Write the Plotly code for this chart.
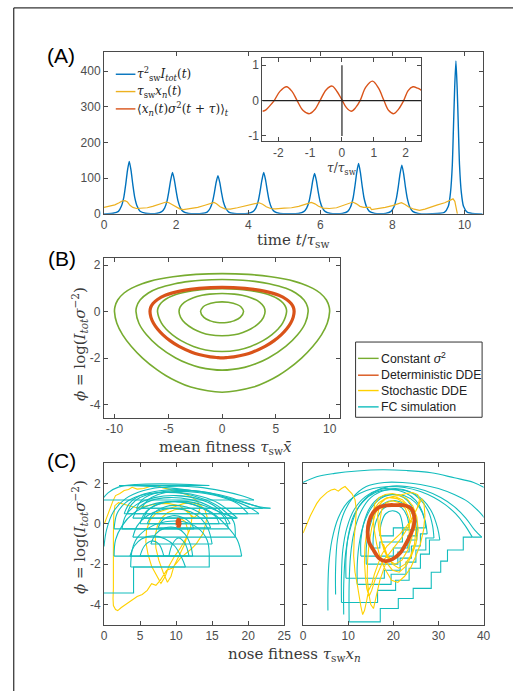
import plotly.graph_objects as go

W, H = 520, 698

# ---------------- Panel A data ----------------
A_t_blue = [0, 0.1, 0.25, 0.40, 0.48, 0.55, 0.60, 0.65, 0.70, 0.75, 0.80, 0.85, 0.92, 1.00, 1.15, 1.30,
            1.45, 1.60, 1.68, 1.75, 1.80, 1.85, 1.90, 1.95, 2.00, 2.05, 2.12, 2.20, 2.35, 2.55,
            2.71, 2.86, 2.94, 3.01, 3.06, 3.11, 3.16, 3.21, 3.26, 3.31, 3.38, 3.46, 3.61, 3.80,
            3.98, 4.13, 4.21, 4.28, 4.33, 4.38, 4.43, 4.48, 4.53, 4.58, 4.65, 4.73, 4.88, 5.15,
            5.39, 5.54, 5.62, 5.69, 5.74, 5.79, 5.84, 5.89, 5.94, 5.99, 6.06, 6.14, 6.29, 6.45,
            6.61, 6.76, 6.84, 6.91, 6.96, 7.01, 7.06, 7.11, 7.16, 7.21, 7.28, 7.36, 7.51, 7.65,
            7.81, 7.96, 8.04, 8.11, 8.16, 8.21, 8.26, 8.31, 8.36, 8.41, 8.48, 8.56, 8.71, 9.10,
            9.44, 9.55, 9.61, 9.66, 9.69, 9.725, 9.76, 9.795, 9.83, 9.86, 9.91, 9.97, 10.08, 10.30, 10.50]
A_v_blue = [0, 0.2, 1.5, 7, 21, 47, 81, 121, 147, 121, 81, 47, 21, 7, 1.5, 0.3,
            1, 6, 16, 37, 64, 95, 116, 95, 64, 37, 16, 6, 1, 0.2,
            1, 5, 15, 34, 59, 88, 107, 88, 59, 34, 15, 5, 1, 0.2,
            1, 6, 16, 37, 64, 95, 116, 95, 64, 37, 16, 6, 1, 0.2,
            1, 6, 16, 36, 62, 93, 113, 93, 62, 36, 16, 6, 1, 0.2,
            1.4, 7, 20, 45, 78, 116, 141, 116, 78, 45, 20, 7, 1.4, 0.3,
            1.4, 7, 19, 44, 75, 112, 136, 112, 75, 44, 19, 7, 1.4, 0.2,
            4, 21, 60, 137, 235, 351, 428, 351, 235, 137, 60, 21, 4, 0.3, 0]

A_t_orange = [0, 0.15, 0.3, 0.42, 0.5, 0.58, 0.65, 0.72, 0.8, 0.9, 1.0, 1.2, 1.35, 1.5, 1.62, 1.72, 1.8, 1.9,
              2.0, 2.1, 2.2, 2.4, 2.6, 2.8, 2.95, 3.05, 3.12, 3.22, 3.35, 3.5, 3.7, 3.9, 4.1, 4.3, 4.4,
              4.5, 4.62, 4.75, 5.0, 5.2, 5.4, 5.6, 5.75, 5.85, 5.95, 6.08, 6.25, 6.45, 6.6, 6.75, 6.9,
              7.0, 7.1, 7.2, 7.38, 7.42, 7.6, 7.8, 8.0, 8.15, 8.25, 8.35, 8.45, 8.6, 8.75, 8.9, 9.05,
              9.25, 9.45, 9.6, 9.68, 9.73, 9.77, 9.8]
A_v_orange = [18, 21, 25, 31, 36, 37, 33, 24, 18, 15, 16, 17, 21, 26, 30, 33, 31, 25,
              18, 14, 12, 14, 18, 24, 29, 32, 28, 20, 14, 13, 17, 22, 27, 31, 27,
              20, 15, 14, 16, 17, 21, 27, 32, 28, 21, 16, 15, 17, 22, 28, 33,
              28, 21, 18, 18, 12, 14, 18, 23, 28, 31, 26, 19, 13, 10, 13, 19,
              25, 31, 37, 42, 35, 15, 0]

A_tau = [-2.5, -2.4, -2.27, -2.13, -1.95, -1.74, -1.57, -1.41, -1.22, -1.02, -0.85, -0.69, -0.5, -0.31,
         -0.15, 0, 0.14, 0.29, 0.43, 0.57, 0.75, 0.96, 1.15, 1.32, 1.47, 1.63, 1.78, 1.94, 2.08, 2.23,
         2.38, 2.5]
A_corr = [-0.30, -0.27, -0.15, 0, 0.26, 0.39, 0.26, 0, -0.28, -0.37, -0.25, 0, 0.30, 0.41,
          0.25, 0.02, -0.20, -0.30, -0.20, 0, 0.38, 0.55, 0.35, 0, -0.28, -0.37, -0.24, 0, 0.28, 0.39,
          0.35, 0.29]

# ---------------- Panel B data (closed orbits) ----------------
B_c1_x = [0, 2.42, 4.55, 5.81, 6.73, 7.43, 8.44, 9.11, 9.70, 9.96, 10.0, 9.78, 9.24, 8.43, 7.39, 6.06, 5.24, 4.24, 2.91, 0,
          -2.91, -4.24, -5.24, -6.06, -7.39, -8.43, -9.24, -9.78, -10.0, -9.96, -9.70, -9.11, -8.44, -7.43, -6.73, -5.81, -4.55, -2.42, 0]
B_c1_y = [1.635, 1.6, 1.5, 1.4, 1.3, 1.2, 1.0, 0.8, 0.5, 0.2, 0, -0.5, -1.0, -1.5, -2.0, -2.5, -2.75, -3.0, -3.25, -3.47,
          -3.25, -3.0, -2.75, -2.5, -2.0, -1.5, -1.0, -0.5, 0, 0.2, 0.5, 0.8, 1.0, 1.2, 1.3, 1.4, 1.5, 1.6, 1.635]
B_c2_x = [0, 1.93, 3.04, 4.38, 5.94, 6.85, 7.62, 7.95, 8.0, 7.73, 7.02, 5.92, 4.31, 3.13, 2.09, 0,
          -2.09, -3.13, -4.31, -5.92, -7.02, -7.73, -8.0, -7.95, -7.62, -6.85, -5.94, -4.38, -3.04, -1.93, 0]
B_c2_y = [1.38, 1.35, 1.3, 1.2, 1.0, 0.8, 0.5, 0.2, 0, -0.5, -1.0, -1.5, -2.0, -2.25, -2.4, -2.52,
          -2.4, -2.25, -2.0, -1.5, -1.0, -0.5, 0, 0.2, 0.5, 0.8, 1.0, 1.2, 1.3, 1.35, 1.38]
B_c3_x = [0, 1.92, 2.70, 3.69, 4.36, 5.21, 5.69, 5.93, 6.0, 5.63, 5.21, 4.61, 3.81, 2.66, 1.52, 0,
          -1.52, -2.66, -3.81, -4.61, -5.21, -5.63, -6.0, -5.93, -5.69, -5.21, -4.36, -3.69, -2.70, -1.92, 0]
B_c3_y = [0.99, 0.945, 0.9, 0.81, 0.72, 0.54, 0.36, 0.18, 0, -0.5, -0.75, -1.0, -1.25, -1.5, -1.65, -1.72,
          -1.65, -1.5, -1.25, -1.0, -0.75, -0.5, 0, 0.18, 0.36, 0.54, 0.72, 0.81, 0.9, 0.945, 0.99]
B_c4_x = [0, 1.15, 1.86, 2.67, 3.51, 3.89, 4.0, 3.85, 3.43, 2.66, 1.93, 1.13, 0,
          -1.13, -1.93, -2.66, -3.43, -3.85, -4.0, -3.89, -3.51, -2.67, -1.86, -1.15, 0]
B_c4_y = [0.78, 0.75, 0.7, 0.6, 0.4, 0.2, 0, -0.25, -0.5, -0.75, -0.9, -1.0, -1.04,
          -1.0, -0.9, -0.75, -0.5, -0.25, 0, 0.2, 0.4, 0.6, 0.7, 0.75, 0.78]
B_c5_x = [0, 0.57, 1.41, 1.77, 2.0, 1.69, 1.09, 0.71, 0.45, 0, -0.45, -0.71, -1.09, -1.69, -2.0, -1.77, -1.41, -0.57, 0]
B_c5_y = [0.417, 0.4, 0.3, 0.2, 0, -0.25, -0.4, -0.45, -0.47, -0.483, -0.47, -0.45, -0.4, -0.25, 0, 0.2, 0.3, 0.4, 0.417]
B_dde_x = [0, 2.14, 2.95, 4.02, 5.28, 6.0, 6.42, 6.64, 6.70, 6.61, 6.37, 6.0, 5.49, 4.84, 4.0, 2.82, 2.15, 1.1, 0.42, 0,
           -0.42, -1.1, -2.15, -2.82, -4.0, -4.84, -5.49, -6.0, -6.37, -6.61, -6.70, -6.64, -6.42, -6.0, -5.28, -4.02, -2.95, -2.14, 0]
B_dde_y = [1.04, 1.0, 0.957, 0.87, 0.70, 0.52, 0.35, 0.17, 0, -0.25, -0.5, -0.75, -1.0, -1.25, -1.5, -1.75, -1.85, -1.95, -1.98, -1.99,
           -1.98, -1.95, -1.85, -1.75, -1.5, -1.25, -1.0, -0.75, -0.5, -0.25, 0, 0.17, 0.35, 0.52, 0.70, 0.87, 0.957, 1.0, 1.04]

# ---------------- Panel C (left) data ----------------
CL_fc_arcs = [
    [(0, -1.12), (0.35, -0.3), (1.3, 0.6), (3, 1.25), (5.5, 1.65), (9, 1.85), (13, 1.82), (16.5, 1.62), (19, 1.4), (20.8, 1.18)],
    [(-0.3, 1.18), (0.6, 1.55), (2, 1.82), (4.5, 1.95), (8, 1.98), (12, 1.95), (14.6, 1.9)],
    [(2.1, 1.9), (5, 1.88), (9, 1.78), (13, 1.6), (16.5, 1.35), (19.5, 1.05), (21.5, 0.85), (23.1, 0.77)],
    [(4.5, 0.77), (5.3, 1.2), (7, 1.5), (10, 1.65), (13.5, 1.6), (17, 1.35), (20, 1.0), (22, 0.77)],
    [(5.2, 0.77), (6, 1.15), (7.5, 1.45), (10, 1.6), (13, 1.55), (16, 1.35), (18.5, 1.0), (20, 0.5)],
    [(2.8, 0.5), (3.5, 1.0), (5, 1.4), (8, 1.65), (11.5, 1.68), (15, 1.5), (18, 1.15), (20.5, 0.75), (21.5, 0.5)],
    [(3.2, 0.5), (3.8, 0.95), (5, 1.3), (7.5, 1.55), (10.5, 1.55), (13.5, 1.35), (16, 1.0), (17.5, 0.6), (18.5, 0.28)],
    [(5.5, 0.28), (6.2, 0.7), (7.8, 1.0), (10, 1.12), (12.5, 1.05), (15, 0.75), (17, 0.45), (18.3, 0.28)],
    [(4, 0.28), (4.8, 0.8), (6.5, 1.15), (9, 1.3), (12, 1.2), (14.5, 0.9), (16.5, 0.4), (17.3, -0.25)],
    [(2.5, -0.25), (3, 0.4), (4.5, 0.95), (7, 1.3), (10, 1.4), (13, 1.25), (15.5, 0.85), (17, 0.3), (17.5, 0.0)],
    [(5, 0.0), (5.6, 0.5), (7, 0.9), (9.5, 1.1), (12, 1.0), (14, 0.7), (15.5, 0.35), (16, 0.0)],
    [(6, 0.0), (6.8, 0.5), (8.5, 0.85), (10.5, 0.9), (12.5, 0.7), (14, 0.35), (14.8, -0.2)],
    [(7.5, -0.2), (8.2, 0.2), (9.5, 0.4), (11, 0.3), (12, 0.05), (12.5, -0.25)],
    [(1.4, -0.25), (1.8, 0.5), (3, 1.05), (5, 1.4), (8, 1.55), (11, 1.5), (14, 1.2), (16.5, 0.7), (18, 0.1), (18.2, -0.66)],
    [(4, -0.66), (4.6, -0.1), (6, 0.4), (8, 0.7), (10, 0.75), (12, 0.6), (13.5, 0.25), (14.5, -0.3), (15, -1.0)],
    [(6.5, -1.0), (7.2, -0.5), (8.5, -0.2), (10, -0.2), (11.2, -0.5), (12, -1.05), (12.3, -1.6)],
    [(5, -1.6), (5.6, -1.1), (6.6, -0.85), (7.6, -1.0), (8.3, -1.6)],
    [(9, -1.6), (9.5, -1.0), (10.3, -0.7), (11.2, -0.95), (11.8, -1.6)],
    [(1.4, -1.6), (1.6, -0.8), (2.5, -0.1), (4, 0.5), (6.5, 0.95), (9.5, 1.1), (12.5, 0.95), (15, 0.55), (17, -0.1), (18.5, -0.8), (19.1, -1.6)],
    [(3.6, -1.6), (4.2, -1.1), (5.2, -0.75), (6.8, -0.6), (8.5, -0.75), (9.8, -1.1), (10.8, -1.7), (11.3, -2.14)],
    [(3.7, -2.14), (3.9, -1.3), (4.6, -0.7), (6.2, -0.2), (8.5, 0.1), (11, 0.1), (13, -0.2), (14.3, -0.8), (14.6, -1.5)],
]
CL_fc_tail = [(14.6, -1.5), (14.6, -2.14), (4.1, -2.14), (4.1, -3.43), (-0.3, -3.43)]

CL_sdde = [(0.05, 0.0), (0.4, 0.35), (0.8, 0.75), (1.2, 1.1), (1.6, 1.4), (2.2, 1.5), (2.8, 1.65), (3.4, 1.7), (3.9, 1.81),
           (4.6, 1.72), (5.5, 1.75), (6.4, 1.85), (7.3, 1.9), (8.2, 1.78), (9, 1.72), (9.6, 1.62), (10.5, 1.55), (11.4, 1.45),
           (12.3, 1.3), (13, 1.1), (13.3, 0.8), (13.1, 0.5), (12.5, 0.3), (11.5, 0.6), (10.5, 0.9), (9, 1.0), (7.5, 1.0),
           (6, 0.9), (4.5, 0.8), (3, 0.95), (2, 1.05), (1.5, 0.9), (1.35, 0.4), (1.3, -0.5), (1.32, -1.5), (1.28, -2.5),
           (1.3, -3.2), (1.25, -3.7), (1.3, -4.05), (1.6, -4.25), (1.9, -4.3), (2.4, -4.15), (3.2, -3.95), (3.8, -3.8),
           (4.6, -3.6), (5.3, -3.5), (6, -3.3), (6.6, -2.97), (7.2, -3.05), (7.8, -2.8), (8.3, -2.55), (8.7, -2.3),
           (9.4, -2.2), (10, -1.98), (10.6, -1.7), (11.4, -1.48), (12.1, -1.25), (12.8, -0.99), (13.3, -0.7), (13.7, -0.5),
           (14.1, 0), (14.3, 0.35), (14.0, 0.7), (13.3, 0.95), (12.2, 1.05), (11, 1.0), (9.8, 0.85), (8.5, 0.7), (7.3, 0.55),
           (6.4, 0.2), (5.9, -0.3), (5.8, -0.9), (6.1, -1.5), (6.6, -2.1), (7.3, -2.6), (7.9, -2.95), (8.5, -2.6), (9, -2.1),
           (9.8, -1.6), (10.6, -1.2), (11.4, -0.7), (12, -0.2), (12.2, 0.3), (11.8, 0.6), (10.9, 0.75), (9.8, 0.7),
           (8.8, 0.55), (8, 0.3), (7.4, -0.1), (7.1, -0.6), (7.2, -1.2), (7.6, -1.8), (8.2, -2.4), (8.8, -2.9), (9.3, -2.6),
           (9.7, -2.1), (10.4, -1.6), (11.2, -1.0), (11.7, -0.4), (11.3, 0.1), (10.5, 0.3), (10.3, 0.05)]
CL_dde = [(10.15, -0.08), (10.15, 0.15), (10.3, 0.22), (10.5, 0.18), (10.55, 0.0), (10.45, -0.12), (10.25, -0.12), (10.15, -0.08)]

# ---------------- Panel C (right) data ----------------
CR_fc_free_arcs = [
    [(-0.5, 2.0), (3, 2.33), (7, 2.5), (12, 2.62), (17.5, 2.68), (23, 2.64), (28.4, 2.53), (33.5, 2.28), (37.8, 2.05), (41, 1.7)],
    [(7.2, -3.5), (7.2, -2.2), (7.6, -0.8), (8.8, 0.4), (11, 1.3), (14, 1.85), (18, 2.05), (22, 2.05), (26, 1.95), (30, 1.75),
     (33.5, 1.45), (36.5, 1.1), (39, 0.6), (40.5, 0.2)],
    [(9, -4.5), (9, -3.0), (9.4, -1.5), (10.5, -0.2), (12.5, 0.9), (15.5, 1.55), (19, 1.85), (23, 1.85), (27, 1.65),
     (30.5, 1.3), (33.5, 0.85), (36, 0.3), (38, -0.3), (39.6, -0.66)],
    [(17, -0.6), (17.3, 0.0), (18.3, 0.5), (19.8, 0.65), (21.3, 0.5), (22, 0.0), (22.2, -0.5)],
]
CR_fc_arcs = [
    [(5.5, -4.3), (5.5, -3.2), (5.7, -2.0), (6.4, -0.8), (7.8, 0.3), (9.8, 1.05), (12.5, 1.5), (15.5, 1.75), (19, 1.85),
     (22.5, 1.8), (26, 1.6), (29, 1.3), (31.5, 0.95), (33.8, 0.5), (35.8, -0.05), (37.5, -0.66)],
    [(10.2, -4.86), (10.2, -3.0), (10.5, -1.6), (11.3, -0.4), (12.8, 0.6), (15, 1.3), (18, 1.65), (21, 1.7), (24, 1.55),
     (26.5, 1.2), (28.5, 0.6), (29.8, -0.2), (30.3, -0.8)],
    [(8.5, -3.9), (8.5, -2.6), (8.8, -1.3), (9.7, -0.2), (11.3, 0.7), (13.8, 1.35), (17, 1.7), (20.5, 1.75), (23.5, 1.6),
     (26, 1.2), (27.8, 0.6), (28.7, -0.1), (29, -0.7)],
    [(12, -3.0), (12, -2.0), (12.5, -0.9), (13.6, 0.1), (15.5, 0.9), (18, 1.35), (21, 1.45), (23.8, 1.25), (25.8, 0.8),
     (27, 0.2), (27.5, -0.5)],
    [(9.5, -2.7), (9.5, -1.7), (10, -0.6), (11.2, 0.4), (13.3, 1.1), (16, 1.55), (19.5, 1.7), (22.5, 1.55), (25, 1.15),
     (26.5, 0.55), (27.2, -0.2)],
    [(14, -2.0), (14, -1.2), (14.6, -0.3), (15.8, 0.5), (17.8, 1.0), (20.3, 1.15), (22.6, 0.95), (24.2, 0.5), (25, -0.1), (25.3, -0.6)],
    [(12.8, -1.6), (12.8, -0.8), (13.4, 0.0), (14.8, 0.8), (17, 1.3), (19.8, 1.45), (22.3, 1.3), (24, 0.9), (25, 0.3), (25.4, -0.3)],
    [(15.5, -1.2), (15.6, -0.5), (16.3, 0.2), (17.8, 0.75), (19.8, 0.95), (21.8, 0.8), (23, 0.4), (23.5, -0.2)],
]
CR_fc_stairs = [
    [(37.5, -0.66), (35.5, -0.66), (35.5, -1.3), (32, -1.3), (32, -1.85), (30.5, -1.85), (30.5, -2.4), (28.4, -2.4), (28.4, -3.2),
     (24.4, -3.2), (24.4, -3.7), (21.1, -3.7), (21.1, -4.2), (17.1, -4.2), (17.1, -4.86), (10.2, -4.86)],
    [(30.3, -0.8), (28, -0.8), (28, -1.5), (26, -1.5), (26, -2.2), (23.5, -2.2), (23.5, -2.8), (20.5, -2.8), (20.5, -3.3),
     (16.5, -3.3), (16.5, -3.9), (8.5, -3.9)],
    [(29, -0.7), (27.2, -0.7), (27.2, -1.3), (25, -1.3), (25, -1.9), (22.8, -1.9), (22.8, -2.5), (19.5, -2.5), (19.5, -3.0), (12, -3.0)],
    [(27.5, -0.5), (26, -0.5), (26, -1.1), (24, -1.1), (24, -1.7), (21.5, -1.7), (21.5, -2.3), (18, -2.3), (18, -2.7), (9.5, -2.7)],
    [(27.2, -0.2), (25.2, -0.2), (25.2, -0.8), (23.5, -0.8), (23.5, -1.4), (21, -1.4), (21, -2.0), (14, -2.0)],
    [(25.3, -0.6), (23.2, -0.6), (23.2, -1.2), (20, -1.2), (20, -1.6), (12.8, -1.6)],
    [(25.4, -0.3), (22, -0.3), (22, -0.9), (17, -0.9), (17, -1.2), (15.5, -1.2)],
    [(23.5, -0.2), (20, -0.2), (20, -0.6), (17, -0.6)],
    [(39.6, -0.66), (37.5, -0.66)],
]
CR_sdde = [(0, -0.46), (0.8, 0.0), (1.6, 0.4), (2.4, 0.75), (3, 1.0), (3.8, 1.25), (4.6, 1.4), (5.3, 1.56), (6.2, 1.68), (7, 1.72),
           (7.8, 1.62), (8.5, 1.75), (9.3, 1.85), (10, 1.7), (10.8, 1.5), (11.5, 1.2), (11.8, 0.7), (11.6, 0.0), (11.3, -0.8),
           (11.2, -1.6), (11.5, -2.4), (12, -3.0), (12.4, -3.6), (12.8, -4.1), (13.2, -4.5), (13.6, -4.3), (14.1, -3.8),
           (14.5, -3.3), (15.2, -3.0), (15.8, -2.5), (16.6, -2.0), (17.5, -1.5), (18.6, -1.1), (20, -0.8), (21.5, -0.5),
           (23, -0.1), (24.3, 0.3), (25.3, 0.8), (25.8, 1.2), (25.4, 1.45), (24.3, 1.55), (22.8, 1.5), (21.3, 1.4), (19.8, 1.35),
           (18.2, 1.25), (16.8, 1.05), (15.6, 0.7), (14.7, 0.2), (14.1, -0.4), (13.7, -1.1), (13.6, -1.9), (13.8, -2.6),
           (14.1, -3.2), (14.6, -3.6), (15.2, -3.3), (15.9, -2.8), (16.8, -2.3), (17.8, -1.8), (19, -1.5), (20.4, -1.1),
           (21.8, -0.7), (23.2, -0.2), (24.5, 0.4), (25.5, 0.9), (26.3, 1.25), (26.8, 1.0), (27, 0.4), (26.7, -0.3), (26, -1.0),
           (25, -1.6), (23.8, -2.2), (22.5, -2.6), (21, -2.9), (19.6, -2.8), (18.3, -2.3), (17.2, -1.8), (16.3, -1.0),
           (15.7, -0.2), (15.5, 0.5), (15.9, 1.0), (16.8, 1.3), (18.2, 1.45), (19.8, 1.5), (21.5, 1.42), (23, 1.25), (24.3, 0.9),
           (25.2, 0.35), (25.5, -0.3), (25, -1.0), (24, -1.6), (22.8, -2.1), (21.3, -2.4), (19.8, -2.3), (18.4, -1.9),
           (17, -2.8), (16.2, -3.6), (15.6, -4.2), (15, -4.0), (14.5, -3.4), (14.2, -2.6), (14.3, -1.8), (14.6, -1.0),
           (15.2, -0.2), (16, 0.5), (17.1, 1.0), (18.6, 1.3), (20.3, 1.35), (22, 1.2), (23.5, 0.85), (24.6, 0.3), (25, -0.3),
           (24.7, -1.0), (23.8, -1.6), (22.6, -2.0), (21.2, -2.2), (19.8, -2.0), (18.6, -1.6), (17.5, -1.0), (16.8, -0.3),
           (16.5, 0.4), (16.9, 0.9), (17.8, 1.2), (19.2, 1.3), (20.8, 1.25), (22.3, 1.05), (23.6, 0.6), (24.2, 0.0),
           (24.1, -0.7), (23.2, -1.3), (21.9, -1.8), (20.4, -2.0), (19, -1.8), (17.9, -1.3), (17.2, -0.6), (17.0, 0.1),
           (17.4, 0.7), (18.4, 1.05), (19.8, 1.15), (21.3, 1.05), (22.7, 0.75), (23.6, 0.2), (23.5, -0.5), (22.6, -1.1),
           (21.3, -1.6), (19.9, -1.8), (18.7, -1.6), (17.8, -1.0)]
CR_dde = [(20.5, 0.93), (22.6, 0.91), (24.0, 0.75), (24.6, 0.4), (24.6, 0.0), (24.0, -0.45), (23.0, -0.9), (21.5, -1.45),
          (19.8, -1.75), (18.2, -1.85), (16.8, -1.7), (15.6, -1.3), (14.6, -0.9), (14.3, -0.4), (14.6, 0.1), (15.5, 0.55),
          (16.8, 0.82), (18.5, 0.92), (20.5, 0.93)]

assert len(A_t_blue) == len(A_v_blue)
assert len(A_t_orange) == len(A_v_orange)
assert len(A_tau) == len(A_corr)
for a, b in [(B_c1_x, B_c1_y), (B_c2_x, B_c2_y), (B_c3_x, B_c3_y), (B_c4_x, B_c4_y), (B_c5_x, B_c5_y), (B_dde_x, B_dde_y)]:
    assert len(a) == len(b)

# ---------------- styling ----------------
BLUE, ORANGE, RED = '#0072BD', '#EDB120', '#D95319'
GREEN, YELLOW, CYAN = '#77AC30', '#FFD100', '#12BDBD'
AXC, TICKC, TITC = '#4a4a4a', '#4d4d4d', '#3a3a3a'
SANS = 'Liberation Sans, Arial, sans-serif'
SERIF = 'DejaVu Serif, serif'


def px_x(p):
    return p / W


def px_y(p):
    return 1 - p / H


def axis(dom, rng, vals, anchor, labels=True):
    txt = [('-' + str(abs(v))) if v < 0 else str(v) for v in vals]
    return dict(domain=dom, range=rng, tickmode='array', tickvals=vals, ticktext=txt, anchor=anchor,
                showline=True, linecolor=AXC, linewidth=1, mirror='ticks', ticks='inside', ticklen=4,
                tickcolor=AXC, tickwidth=1, showgrid=False, zeroline=False, showticklabels=labels,
                tickfont=dict(family=SANS, size=12, color=TICKC))


def xy(pts):
    return [p[0] for p in pts], [p[1] for p in pts]


def segs(list_of_lists):
    xs, ys = [], []
    for seg in list_of_lists:
        a, b = xy(seg)
        xs += a + [None]
        ys += b + [None]
    return xs, ys


fig = go.Figure()

# Panel A
fig.add_trace(go.Scatter(x=A_t_blue, y=A_v_blue, mode='lines', line=dict(color=BLUE, width=1.4, shape='spline', smoothing=0.6),
                         xaxis='x', yaxis='y', showlegend=False))
fig.add_trace(go.Scatter(x=A_t_orange, y=A_v_orange, mode='lines', line=dict(color=ORANGE, width=1.2),
                         xaxis='x', yaxis='y', showlegend=False))
fig.add_trace(go.Scatter(x=A_tau, y=A_corr, mode='lines', line=dict(color=RED, width=1.4, shape='spline', smoothing=1.0),
                         xaxis='x2', yaxis='y2', showlegend=False))

# Panel B
for bx, by in [(B_c1_x, B_c1_y), (B_c2_x, B_c2_y), (B_c3_x, B_c3_y), (B_c4_x, B_c4_y), (B_c5_x, B_c5_y)]:
    fig.add_trace(go.Scatter(x=bx, y=by, mode='lines', line=dict(color=GREEN, width=1.6, shape='spline', smoothing=1.0),
                             xaxis='x3', yaxis='y3', showlegend=False))
fig.add_trace(go.Scatter(x=B_dde_x, y=B_dde_y, mode='lines', line=dict(color=RED, width=3.2, shape='spline', smoothing=1.0),
                         xaxis='x3', yaxis='y3', showlegend=False))

# Panel C left
sx, sy = xy(CL_sdde)
fig.add_trace(go.Scatter(x=sx, y=sy, mode='lines', line=dict(color=YELLOW, width=1.1), xaxis='x4', yaxis='y4', showlegend=False))
ax_, ay_ = segs(CL_fc_arcs)
fig.add_trace(go.Scatter(x=ax_, y=ay_, mode='lines', line=dict(color=CYAN, width=1.1, shape='spline', smoothing=1.0),
                         xaxis='x4', yaxis='y4', showlegend=False))
conn = [[CL_fc_arcs[i][-1], CL_fc_arcs[i + 1][0]] for i in range(len(CL_fc_arcs) - 1)] + [CL_fc_tail]
cx, cy = segs(conn)
fig.add_trace(go.Scatter(x=cx, y=cy, mode='lines', line=dict(color=CYAN, width=1.1), xaxis='x4', yaxis='y4', showlegend=False))
dx, dy = xy(CL_dde)
fig.add_trace(go.Scatter(x=dx, y=dy, mode='lines', line=dict(color=RED, width=3.0), fill='toself', fillcolor=RED,
                         xaxis='x4', yaxis='y4', showlegend=False))

# Panel C right
ax_, ay_ = segs(CR_fc_free_arcs + CR_fc_arcs)
fig.add_trace(go.Scatter(x=ax_, y=ay_, mode='lines', line=dict(color=CYAN, width=1.1, shape='spline', smoothing=1.0),
                         xaxis='x5', yaxis='y5', showlegend=False))
cx, cy = segs(CR_fc_stairs)
fig.add_trace(go.Scatter(x=cx, y=cy, mode='lines', line=dict(color=CYAN, width=1.1), xaxis='x5', yaxis='y5', showlegend=False))
sx, sy = xy(CR_sdde)
fig.add_trace(go.Scatter(x=sx, y=sy, mode='lines', line=dict(color=YELLOW, width=1.1), xaxis='x5', yaxis='y5', showlegend=False))
dx, dy = xy(CR_dde)
fig.add_trace(go.Scatter(x=dx, y=dy, mode='lines', line=dict(color=RED, width=3.8, shape='spline', smoothing=1.0),
                         xaxis='x5', yaxis='y5', showlegend=False))

# ---------------- axes ----------------
layout = dict(
    width=W, height=H, margin=dict(l=0, r=0, t=0, b=0), paper_bgcolor='white', plot_bgcolor='white',
    xaxis=axis([px_x(103), px_x(489)], [0, 10.5], [0, 2, 4, 6, 8, 10], 'y'),
    yaxis=axis([px_y(216), px_y(53)], [0, 452], [0, 100, 200, 300, 400], 'x'),
    xaxis2=axis([px_x(264.5), px_x(426.7)], [-2.5, 2.5], [-2, -1, 0, 1, 2], 'y2'),
    yaxis2=axis([px_y(142.7), px_y(58.7)], [-1.15, 1.2], [-1, 0, 1], 'x2'),
    xaxis3=axis([px_x(102.7), px_x(344)], [-11, 11], [-10, -5, 0, 5, 10], 'y3'),
    yaxis3=axis([px_y(422), px_y(261)], [-4.57, 2.29], [-4, -2, 0, 2], 'x3'),
    xaxis4=axis([px_x(103), px_x(286.7)], [0, 25], [0, 5, 10, 15, 20, 25], 'y4'),
    yaxis4=axis([px_y(631), px_y(468)], [-5, 3], [-4, -2, 0, 2], 'x4'),
    xaxis5=axis([px_x(306), px_x(490)], [0, 40], [0, 10, 20, 30, 40], 'y5'),
    yaxis5=axis([px_y(631), px_y(468)], [-5, 3], [-4, -2, 0, 2], 'x5', labels=False),
)

shapes = []
# inset reference lines
shapes.append(dict(type='line', xref='x2', yref='y2', x0=-2.5, x1=2.5, y0=0, y1=0, line=dict(color='#222', width=1.2)))
shapes.append(dict(type='line', xref='x2', yref='y2', x0=0, x1=0, y0=-1, y1=1, line=dict(color='#222', width=1.2)))
# outer frame
shapes.append(dict(type='line', xref='paper', yref='paper', x0=px_x(11), x1=1, y0=px_y(8), y1=px_y(8), line=dict(color='black', width=1)))
shapes.append(dict(type='line', xref='paper', yref='paper', x0=px_x(11), x1=px_x(11), y0=px_y(8), y1=0, line=dict(color='black', width=1)))

annotations = []


def ann(text, x, y, size, family, color='#222', xanchor='center', yanchor='middle', angle=0):
    annotations.append(dict(text=text, x=px_x(x), y=px_y(y), xref='paper', yref='paper', showarrow=False,
                            xanchor=xanchor, yanchor=yanchor, textangle=angle, borderpad=0,
                            font=dict(size=size, family=family, color=color)))


# panel letters
ann('(A)', 59, 56, 21, SANS, 'black')
ann('(B)', 60, 261, 21, SANS, 'black')
ann('(C)', 60, 465, 21, SANS, 'black')

# axis titles
ann('time <i>t</i>/<i>τ</i><sub>sw</sub>', 296, 243, 15, SERIF, TITC)
ann('mean fitness <i>τ</i><sub>sw</sub><i>x̄</i>', 227, 452, 15, SERIF, TITC)
ann('nose fitness <i>τ</i><sub>sw</sub><i>x</i><sub><i>n</i></sub>', 297, 661, 15, SERIF, TITC)
ann('<i>ϕ</i> = log(<i>I</i><sub><i>tot</i></sub><i>σ</i><sup>−2</sup>)', 78, 348, 15, SERIF, TITC, angle=-90)
ann('<i>ϕ</i> = log(<i>I</i><sub><i>tot</i></sub><i>σ</i><sup>−2</sup>)', 78, 543, 15, SERIF, TITC, angle=-90)
ann('<i>τ</i>/<i>τ</i><sub>sw</sub>', 346, 171, 12, SERIF, TITC)

# legend A
legA = [(BLUE, '<i>τ</i><sup>2</sup><sub>sw</sub><i>I</i><sub><i>tot</i></sub>(<i>t</i>)', 75),
        (ORANGE, '<i>τ</i><sub>sw</sub><i>x</i><sub><i>n</i></sub>(<i>t</i>)', 92.5),
        (RED, '⟨<i>x</i><sub><i>n</i></sub>(<i>t</i>)<i>σ</i><sup>2</sup>(<i>t</i> + <i>τ</i>)⟩<sub><i>t</i></sub>', 110)]
for col, txt, yy in legA:
    shapes.append(dict(type='line', xref='paper', yref='paper', x0=px_x(115), x1=px_x(135), y0=px_y(yy), y1=px_y(yy),
                       line=dict(color=col, width=1.4)))
    ann(txt, 136, yy, 12, SERIF, '#222', xanchor='left')

# legend B
shapes.append(dict(type='rect', xref='paper', yref='paper', x0=px_x(359.5), x1=px_x(488.5), y0=px_y(421.5), y1=px_y(345.5),
                   line=dict(color='#333', width=1), fillcolor='white', layer='below'))
legB = [(GREEN, 'Constant <i>σ</i><sup>2</sup>', 362), (RED, 'Deterministic DDE', 379),
        (YELLOW, 'Stochastic DDE', 394.5), (CYAN, 'FC simulation', 411)]
for col, txt, yy in legB:
    shapes.append(dict(type='line', xref='paper', yref='paper', x0=px_x(362), x1=px_x(383), y0=px_y(yy), y1=px_y(yy),
                       line=dict(color=col, width=1.4)))
    ann(txt, 384, yy, 12.3, SANS, '#222', xanchor='left')

layout['shapes'] = shapes
layout['annotations'] = annotations
fig.update_layout(**layout)

fig.write_html("out.html", config={'displayModeBar': False})
